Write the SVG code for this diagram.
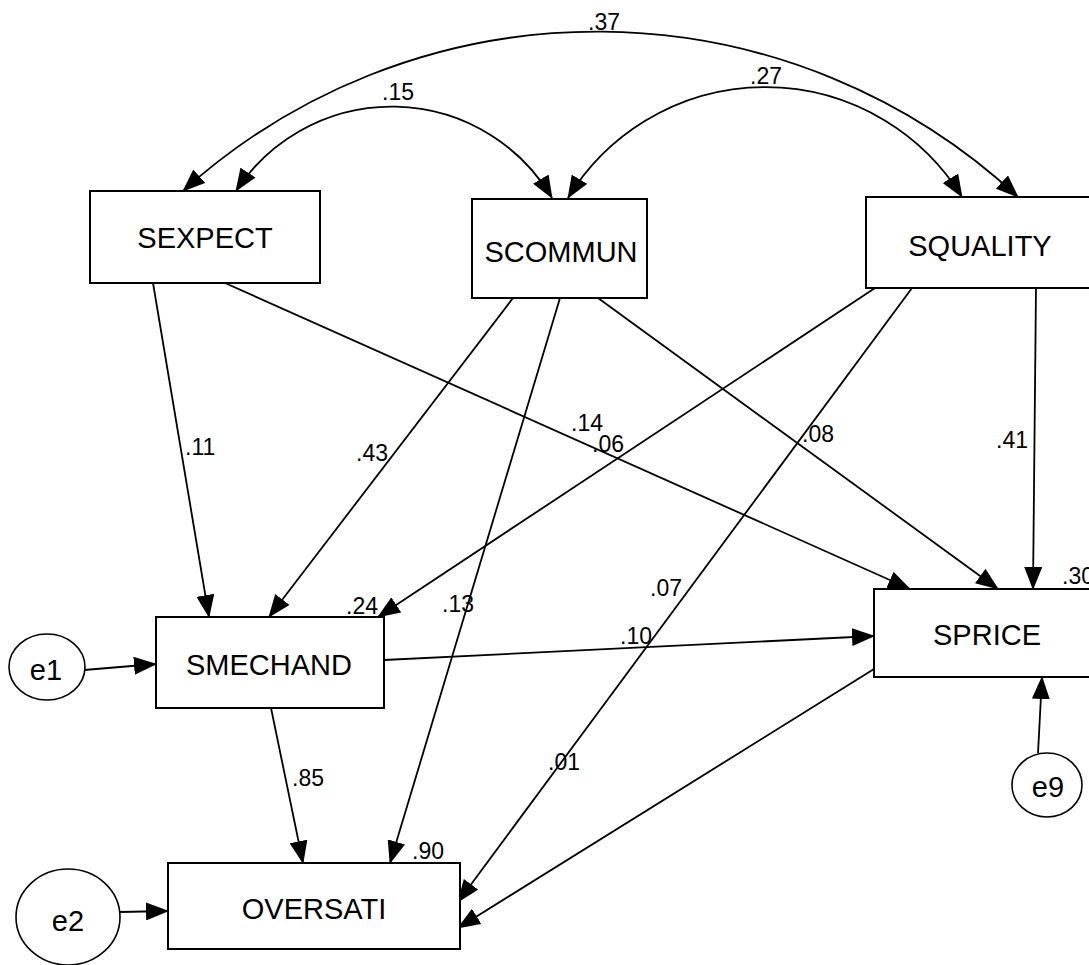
<svg xmlns="http://www.w3.org/2000/svg" width="1089" height="965" viewBox="0 0 1089 965">
<style>
.box{fill:#fff;stroke:#000;stroke-width:2}
.ell{fill:#fff;stroke:#000;stroke-width:1.6}
.ln{fill:none;stroke:#000;stroke-width:1.8;marker-end:url(#ah)}
.arc{fill:none;stroke:#000;stroke-width:1.8;marker-start:url(#ahs);marker-end:url(#ah)}
.nt{font-family:"Liberation Sans",Arial,sans-serif;font-size:29px;text-anchor:middle;fill:#000}
.lb{font-family:"Liberation Sans",Arial,sans-serif;font-size:23px;fill:#000}
</style>
<defs>
<marker id="ah" markerUnits="userSpaceOnUse" markerWidth="23" markerHeight="18" refX="22" refY="9" orient="auto">
<path d="M0,0 L23,9 L0,18 z" fill="#000"/>
</marker>
<marker id="ahs" markerUnits="userSpaceOnUse" markerWidth="23" markerHeight="18" refX="1" refY="9" orient="auto">
<path d="M23,0 L0,9 L23,18 z" fill="#000"/>
</marker>
</defs>
<g id="connectors">
<path class="arc" d="M183 191 A618 618 0 0 1 1018 197"/>
<path class="arc" d="M236 191 A186 186 0 0 1 552 198"/>
<path class="arc" d="M568 198 A231 231 0 0 1 962 197"/>
<line class="ln" x1="153" y1="283" x2="209" y2="617"/>
<line class="ln" x1="225" y1="283" x2="910" y2="589"/>
<line class="ln" x1="513" y1="298" x2="269" y2="617"/>
<line class="ln" x1="560" y1="298" x2="390" y2="863"/>
<line class="ln" x1="598" y1="298" x2="998" y2="589"/>
<line class="ln" x1="875" y1="288" x2="378" y2="617"/>
<line class="ln" x1="912" y1="288" x2="458" y2="902"/>
<line class="ln" x1="1036" y1="288" x2="1033" y2="589"/>
<line class="ln" x1="384" y1="660" x2="874" y2="636"/>
<line class="ln" x1="271" y1="708" x2="303" y2="863"/>
<line class="ln" x1="874" y1="669" x2="458" y2="928"/>
<line class="ln" x1="84" y1="670" x2="156" y2="664"/>
<line class="ln" x1="120" y1="912" x2="168" y2="911"/>
<line class="ln" x1="1038" y1="753" x2="1042" y2="677"/>
</g>
<g id="labels">
<text class="lb" x="588" y="30">.37</text>
<text class="lb" x="382" y="100">.15</text>
<text class="lb" x="750" y="84">.27</text>
<text class="lb" x="185" y="455">.11</text>
<text class="lb" x="356" y="461">.43</text>
<text class="lb" x="442" y="612">.13</text>
<text class="lb" x="571" y="431">.14</text>
<text class="lb" x="592" y="452">.06</text>
<text class="lb" x="802" y="442">.08</text>
<text class="lb" x="996" y="448">.41</text>
<text class="lb" x="650" y="596">.07</text>
<text class="lb" x="620" y="644">.10</text>
<text class="lb" x="548" y="770">.01</text>
<text class="lb" x="292" y="786">.85</text>
<text class="lb" x="346" y="614">.24</text>
<text class="lb" x="412" y="859">.90</text>
<text class="lb" x="1062" y="584">.30</text>
</g>
<g id="SEXPECT"><rect class="box" x="90" y="191" width="230" height="92"/><text class="nt" x="205" y="248">SEXPECT</text></g>
<g id="SCOMMUN"><rect class="box" x="472" y="199" width="175" height="99"/><text class="nt" x="561" y="262">SCOMMUN</text></g>
<g id="SQUALITY"><rect class="box" x="866" y="197" width="228" height="91"/><text class="nt" x="980" y="256">SQUALITY</text></g>
<g id="SMECHAND"><rect class="box" x="156" y="617" width="228" height="91"/><text class="nt" x="269" y="675">SMECHAND</text></g>
<g id="SPRICE"><rect class="box" x="874" y="589" width="226" height="88"/><text class="nt" x="987" y="645">SPRICE</text></g>
<g id="OVERSATI"><rect class="box" x="168" y="863" width="292" height="86"/><text class="nt" x="314" y="919">OVERSATI</text></g>
<g id="e1"><ellipse class="ell" cx="47" cy="667" rx="38" ry="33"/><text class="nt" x="46" y="680">e1</text></g>
<g id="e2"><ellipse class="ell" cx="68" cy="917" rx="52" ry="48"/><text class="nt" x="68" y="931">e2</text></g>
<g id="e9"><ellipse class="ell" cx="1047" cy="785" rx="35" ry="32"/><text class="nt" x="1048" y="797">e9</text></g>
</svg>
